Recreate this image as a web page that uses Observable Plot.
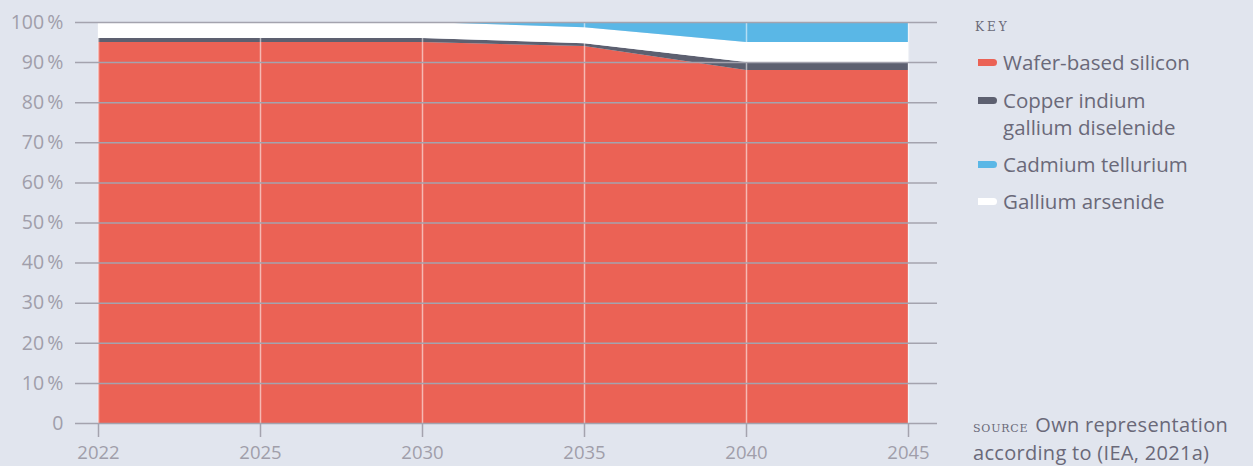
<!DOCTYPE html>
<html>
<head>
<meta charset="utf-8">
<script src="https://cdn.jsdelivr.net/npm/d3@7"></script>
<script src="https://cdn.jsdelivr.net/npm/@observablehq/plot@0.6"></script>
<style>
  html, body { margin: 0; padding: 0; background: #e1e5ee; }
  #wrap { position: relative; width: 1253px; height: 466px; overflow: hidden; background: #e1e5ee; font-family: "Open Sans", sans-serif; }
  #chart { position: absolute; left: 0; top: 0; }
  .key { position: absolute; left: 975px; top: 15px; font-family: "DejaVu Serif", serif; font-variant: small-caps; text-transform: lowercase; font-size: 17px; letter-spacing: 3px; color: #6c6b7a; }
  .item { position: absolute; left: 978px; font-size: 20.5px; font-weight: 400; color: #6a6979; line-height: 27px; }
  .sw { position: absolute; left: 0; top: 10px; width: 19px; height: 7px; border-radius: 0 4px 4px 0; }
  .lbl { position: absolute; left: 25px; white-space: nowrap; }
  .src { position: absolute; left: 973px; top: 412px; font-size: 20px; font-weight: 400; color: #6a6979; line-height: 25px; white-space: nowrap; letter-spacing: 0.3px; }
  .src .sc { font-family: "DejaVu Serif", serif; font-variant: small-caps; text-transform: lowercase; font-size: 15.5px; letter-spacing: 0.8px; font-weight: 400; margin-right: 7px; }
</style>
</head>
<body>
<div id="wrap">
  <div id="chart"></div>
</div>
<script>
const years = ["2022", "2025", "2030", "2035", "2040", "2045"];
const techs = ["Wafer-based silicon", "Copper indium gallium diselenide", "Gallium arsenide", "Cadmium tellurium"];
const silicon = [95, 95, 95, 94, 88, 88];
const cigs    = [1, 1, 1, 0.7, 2, 2];
const gaas    = [4, 4, 4, 4, 5, 5];
const cdte    = [0, 0, 0, 1.3, 5, 5];
const yTicks = [0, 10, 20, 30, 40, 50, 60, 70, 80, 90, 100];
const colors = ["#eb6255", "#5d6070", "#ffffff", "#5ab7e6"];

const seriesValues = [silicon, cigs, gaas, cdte];
const rows = [];
techs.forEach((t, i) => years.forEach((y, j) => rows.push({year: y, tech: t, share: seriesValues[i][j]})));

const plot = Plot.plot({
  width: 1253,
  height: 466,
  marginLeft: 97,
  marginRight: 344,
  marginTop: 22,
  marginBottom: 43,
  style: {background: "transparent", fontFamily: "Open Sans, sans-serif", fontSize: "19px", fontWeight: 400, color: "#a09eaa", overflow: "visible"},
  x: {type: "point", domain: years, padding: 0, label: null},
  y: {domain: [0, 100], label: null},
  color: {domain: techs, range: colors},
  marks: [
    Plot.areaY(rows, {x: "year", y: "share", fill: "tech", order: techs}),
    Plot.ruleX(years, {x: d => d, stroke: "#ffffff", strokeOpacity: 0.55, strokeWidth: 1.5}),
    Plot.ruleY(yTicks, {y: d => d, stroke: "#a4a3ae", strokeWidth: 1.5, insetLeft: -22, insetRight: -28}),
    Plot.axisY(yTicks, {tickSize: 0, tickPadding: 34, tickFormat: d => d === 0 ? "0" : d + "\u2009%", fill: "#a09eaa", fontSize: 19.5}),
    Plot.axisX(years, {tickSize: 14, tickPadding: 8, stroke: "#a4a3ae", strokeWidth: 1.5, fill: "#a09eaa", fontSize: 18.5, label: null})
  ]
});
document.getElementById("chart").appendChild(plot);

const wrap = document.getElementById("wrap");
const key = document.createElement("div");
key.className = "key";
key.textContent = "Key";
wrap.appendChild(key);

const legendItems = [
  {label: "Wafer-based silicon", color: colors[0], top: 49},
  {label: "Copper indium<br>gallium diselenide", color: colors[1], top: 87},
  {label: "Cadmium tellurium", color: colors[3], top: 151},
  {label: "Gallium arsenide", color: colors[2], top: 188}
];
legendItems.forEach(it => {
  const d = document.createElement("div");
  d.className = "item";
  d.style.top = it.top + "px";
  d.innerHTML = `<div class="sw" style="background:${it.color}"></div><div class="lbl">${it.label}</div>`;
  wrap.appendChild(d);
});

const src = document.createElement("div");
src.className = "src";
src.innerHTML = `<span class="sc">Source</span>Own representation<br>according to (IEA, 2021a)`;
wrap.appendChild(src);
</script>
</body>
</html>
